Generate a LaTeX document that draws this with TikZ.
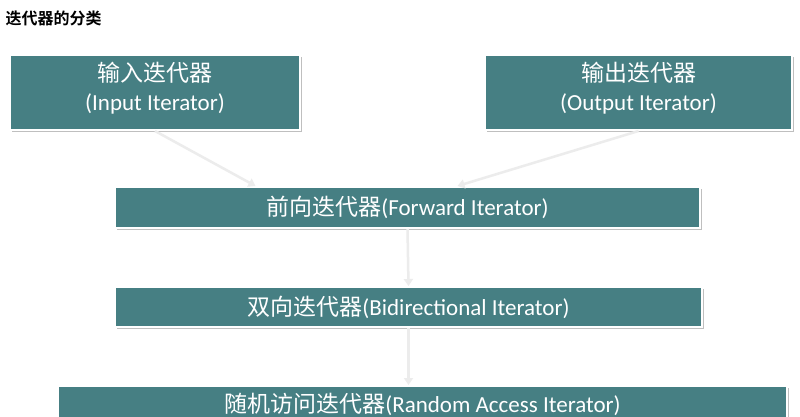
\documentclass[tikz,border=0pt]{standalone}
\usepackage{fontspec}
\setmainfont{Carlito}
\newfontfamily\cjk[BoldFont={Noto Sans CJK SC Bold}]{Noto Sans CJK SC}
\usepackage{xcolor}
\usepackage{tikz}
\usetikzlibrary{arrows.meta,shadows}

\definecolor{iterteal}{RGB}{70,127,131}
\definecolor{linkgray}{RGB}{236,236,236}

\tikzset{
	iterbox/.style={draw=white, line width=2pt, fill=iterteal, text=white, inner sep=0pt,
		font=\fontsize{23}{29}\selectfont, align=center,
		drop shadow={shadow xshift=1.5pt, shadow yshift=-2pt, fill=black, opacity=0.25}},
	link/.style={draw=linkgray, line width=2.5pt, -{Triangle[length=7pt,width=9pt]}}
}

\begin{document}
\begin{tikzpicture}[x=1pt,y=-1pt]
			\useasboundingbox (0,0) rectangle (800,417);
			\clip (0,0) rectangle (800,417);
			\fill[white] (0,0) rectangle (800,417);

			\node[anchor=west, font=\fontsize{16}{18}\selectfont\cjk\bfseries] (title) at (2,18) {迭代器的分类};

			\node[iterbox, minimum width=290pt, minimum height=75pt, text depth=13pt] (in) at (155,92.5) {{\cjk 输入迭代器}\\(Input Iterator)};
			\node[iterbox, minimum width=307pt, minimum height=75pt, text depth=13pt] (out) at (638.5,92.5) {{\cjk 输出迭代器}\\(Output Iterator)};
			\node[iterbox, minimum width=585pt, minimum height=41pt] (fwd) at (407.5,207.5) {{\cjk 前向迭代器}(Forward Iterator)};
			\node[iterbox, minimum width=587pt, minimum height=40pt] (bidi) at (408.5,307) {{\cjk 双向迭代器}(Bidirectional Iterator)};
			\node[iterbox, minimum width=729pt, minimum height=40pt, text depth=6pt] (rand) at (422.5,406) {{\cjk 随机访问迭代器}(Random Access Iterator)};

			\draw[link] (in.south) -- ([xshift=-152pt]fwd.north);
			\draw[link] (out.south) -- ([xshift=50pt]fwd.north);
			\draw[link] (fwd.south) -- (bidi.north);
			\draw[link] (bidi.south) -- (bidi.south |- rand.north);
		\end{tikzpicture}
\end{document}
